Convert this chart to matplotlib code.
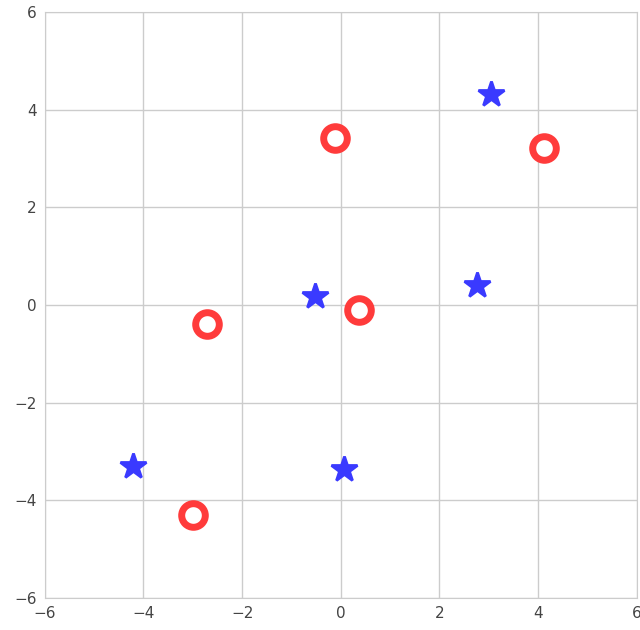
import matplotlib
matplotlib.use("Agg")
import matplotlib.pyplot as plt

red_x = [-0.12, 4.12, -2.71, 0.37, -3.0]
red_y = [3.42, 3.21, -0.39, -0.11, -4.31]
blue_x = [3.05, -0.52, 2.76, -4.21, 0.06]
blue_y = [4.32, 0.18, 0.41, -3.30, -3.36]
ticks = [-6, -4, -2, 0, 2, 4, 6]

fig = plt.figure(figsize=(6.4, 6.3), dpi=100)
ax = fig.add_axes([0.070, 0.051, 0.925, 0.930])
ax.set_xlim(-6, 6)
ax.set_ylim(-6, 6)
ax.set_xticks(ticks)
ax.set_yticks(ticks)
ax.grid(True, color="#cccccc", linewidth=1)
ax.set_axisbelow(True)
for s in ax.spines.values():
    s.set_color("#cccccc")
ax.tick_params(length=0, labelsize=11, colors="#444444", pad=6)
ax.plot(red_x, red_y, 'o', linestyle='none', markersize=17, markerfacecolor='white',
        markeredgecolor='#ff3b3b', markeredgewidth=5)
ax.plot(blue_x, blue_y, '*', linestyle='none', markersize=19, color='#3a3aff',
        markeredgewidth=2, markeredgecolor='#3a3aff')
fig.savefig("out.png", dpi=100)
